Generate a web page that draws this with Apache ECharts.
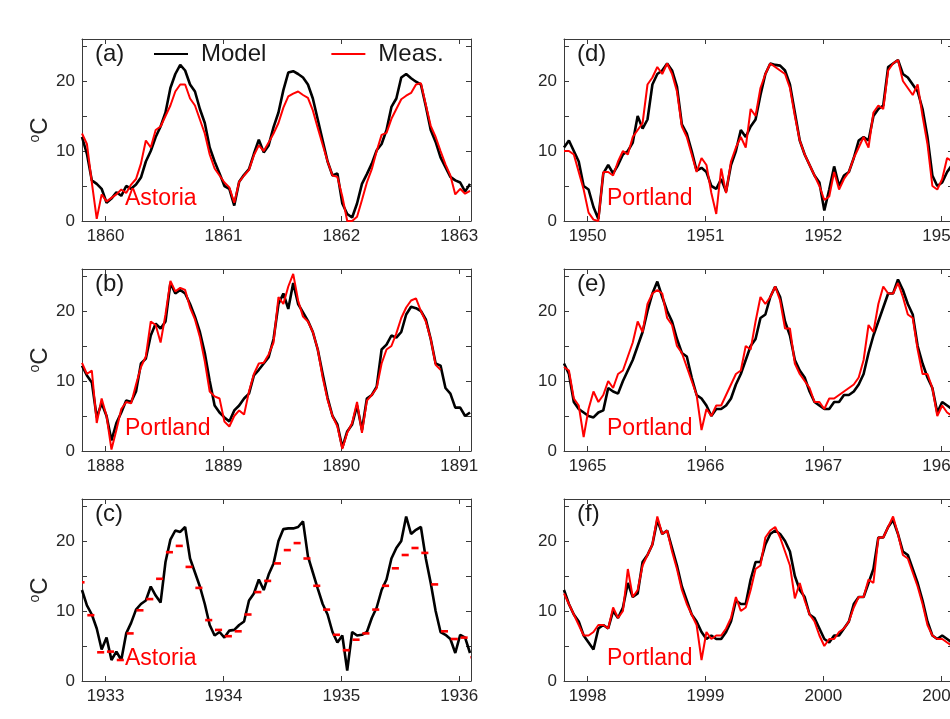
<!DOCTYPE html>
<html>
<head>
<meta charset="utf-8">
<script src="https://cdn.jsdelivr.net/npm/echarts@6/dist/echarts.min.js"></script>
<style>
  html, body { margin: 0; padding: 0; background: #ffffff; }
  #chart { width: 950px; height: 719px; }
</style>
</head>
<body>
<div id="chart"></div>
<script>
// Water temperature (°C): model vs. measurements, three-year windows.
// Daily series are stored twice a month (every 1/24 year) from each window start.
const STEP = 1 / 24;

// (a) Astoria 1860-1863
const aStart = 1859.8;
const aModel = [12, 9.6, 5.8, 5.3, 4.6, 2.6, 3.2, 4.1, 3.6, 5.0,
  4.6, 5.2, 6.2, 8.5, 10.0, 12.0, 13.5, 15.5, 19.0, 21.0,
  22.3, 21.5, 19.5, 18.5, 16.0, 14.0, 10.5, 8.5, 6.8, 5.0,
  4.6, 2.2, 5.6, 6.6, 7.4, 9.6, 11.6, 9.8, 10.8, 13.4,
  15.5, 18.7, 21.2, 21.4, 21.0, 20.5, 19.5, 17.5, 14.5, 11.5,
  8.5, 6.5, 6.8, 2.5, 1.0, 0.5, 2.5, 5.3, 6.7, 8.2,
  10.1, 11.0, 13.0, 16.3, 17.5, 20.5, 21.0, 20.4, 19.9, 19.5,
  16.4, 13.0, 11.3, 9.1, 7.7, 6.3, 5.8, 5.5, 4.2, 5.3];
const aMeas = [12.5, 11.0, 5.5, 0.3, 3.8, 2.8, 3.3, 3.8, 4.5, 4.0,
  5.2, 6.0, 8.2, 11.5, 10.5, 13.0, 13.5, 15.0, 16.5, 18.5,
  19.5, 19.5, 17.5, 16.5, 14.5, 12.5, 9.5, 7.5, 6.5, 5.5,
  4.8, 2.6, 5.6, 6.5, 7.3, 9.4, 10.8, 10.0, 11.2, 12.5,
  14.0, 16.2, 17.8, 18.2, 18.5, 18.0, 17.6, 15.8, 13.3, 10.9,
  8.5, 6.5, 6.3, 3.5, 0.0, 0.0, 0.6, 3.0, 5.5, 7.4,
  10.0, 12.3, 12.6, 14.6, 16.0, 17.4, 17.9, 18.3, 19.5, 19.7,
  16.6, 13.6, 12.0, 10.0, 8.1, 6.5, 3.8, 4.6, 3.9, 4.3];

// (b) Portland 1888-1891
const bStart = 1887.8;
const bModel = [12.2, 10.8, 9.8, 4.8, 6.8, 5.0, 1.5, 4.0, 5.5, 7.2,
  7.0, 8.5, 12.5, 13.2, 16.5, 18.2, 17.5, 18.5, 24.0, 22.5,
  23.0, 22.5, 21.0, 19.2, 17.0, 14.0, 10.0, 6.5, 5.5, 4.8,
  4.2, 5.8, 6.5, 7.5, 8.2, 10.8, 11.6, 12.5, 13.4, 16.0,
  21.0, 22.5, 20.3, 24.0, 21.0, 19.8, 18.6, 17.0, 14.5, 11.0,
  7.6, 5.0, 3.8, 0.5, 2.8, 3.8, 6.5, 3.0, 7.5, 8.0,
  9.2, 14.5, 15.2, 16.5, 16.2, 17.0, 19.5, 20.6, 20.4, 20.0,
  18.8, 16.0, 12.5, 12.2, 9.0, 8.2, 6.2, 6.2, 5.0, 5.5];
const bMeas = [12.6, 11.0, 11.5, 4.0, 7.5, 5.0, 0.2, 3.0, 6.0, 7.0,
  6.8, 9.5, 12.0, 13.5, 18.5, 18.0, 15.5, 19.5, 24.3, 22.8,
  23.3, 23.0, 20.5, 18.8, 16.3, 12.8, 8.5, 7.8, 7.5, 4.2,
  3.5, 5.0, 5.8, 5.2, 8.5, 11.0, 12.5, 12.6, 13.8, 15.5,
  22.0, 21.0, 23.5, 25.3, 21.5, 19.2, 18.5, 17.0, 14.5, 10.5,
  7.3, 5.0, 3.5, 0.3, 2.6, 4.0, 7.0, 2.6, 7.2, 8.0,
  9.0, 12.5, 14.5, 15.0, 16.8, 19.0, 20.5, 21.5, 21.8, 20.0,
  18.5, 16.0, 12.3, 11.6];

// (c) Astoria 1933-1936: model daily, measurements as monthly means
const cStart = 1932.8;
const cModel = [13.0, 10.8, 9.5, 7.5, 4.5, 6.2, 3.0, 4.2, 3.0, 6.8,
  8.3, 10.2, 11.0, 11.5, 13.5, 12.2, 11.2, 17.0, 20.2, 21.5,
  21.3, 22.0, 17.5, 15.5, 13.5, 11.0, 8.0, 6.5, 7.0, 6.2,
  7.2, 7.3, 8.0, 8.5, 11.5, 12.5, 14.5, 13.0, 15.2, 16.8,
  20.0, 21.7, 21.8, 21.8, 22.0, 22.8, 17.8, 15.5, 13.2, 11.0,
  9.5, 7.0, 5.5, 6.5, 1.5, 7.0, 6.5, 6.6, 7.0, 9.0,
  10.5, 13.0, 14.5, 17.5, 19.0, 20.0, 23.5, 21.0, 21.6, 22.0,
  17.5, 14.0, 10.0, 7.0, 6.6, 6.0, 4.0, 6.6, 6.2, 4.0];
const cMonthStart = [1932, 10]; // October 1932
const cMeasMonthly = [14.1, 9.4, 4.1, 4.2, 3.0, 6.8, 10.1, 11.7, 14.6, 18.4,
  19.3, 16.3, 13.3, 8.7, 7.3, 6.4, 7.1, 9.5, 12.7, 14.3,
  16.8, 18.7, 19.7, 17.5, 13.6, 10.2, 6.6, 4.4, 5.9, 6.8,
  10.2, 13.6, 16.1, 18.0, 19.0, 18.3, 13.8, 7.1, 6.0, 6.2, 3.4];

// (d) Portland 1950-1953
const dStart = 1949.8;
const dModel = [10.5, 11.5, 10.0, 8.5, 5.0, 4.5, 2.0, 0.3, 6.8, 8.0,
  6.8, 8.0, 9.5, 10.0, 11.2, 15.0, 13.2, 14.5, 19.5, 21.0,
  21.5, 22.5, 21.5, 19.2, 13.8, 12.5, 10.0, 7.2, 7.6, 7.0,
  5.0, 4.6, 6.0, 4.2, 8.0, 10.0, 13.0, 12.0, 13.5, 14.5,
  18.0, 21.0, 22.5, 22.3, 22.2, 21.5, 19.5, 15.5, 11.5, 9.5,
  8.0, 6.5, 5.5, 1.5, 4.5, 7.8, 5.0, 6.5, 7.0, 9.0,
  11.5, 12.0, 11.5, 15.0, 16.0, 16.5, 22.0, 22.5, 23.0, 21.0,
  20.5, 19.5, 18.5, 16.0, 12.0, 6.5, 5.0, 5.5, 7.0, 8.0];
const dMeas = [10.0, 10.0, 9.5, 7.0, 4.5, 1.2, 0.2, 0.0, 7.0, 7.0,
  6.5, 8.5, 10.0, 9.5, 12.0, 13.0, 14.0, 19.5, 20.5, 22.0,
  21.0, 22.5, 21.0, 18.5, 13.5, 12.0, 9.5, 7.0, 9.0, 8.0,
  4.0, 1.0, 7.5, 4.0, 8.5, 10.5, 12.0, 10.5, 16.0, 15.0,
  19.0, 21.0, 22.5, 22.0, 21.5, 21.0, 19.0, 15.0, 11.5, 9.5,
  8.0, 6.5, 5.0, 3.0, 3.5, 7.0, 4.5, 6.0, 7.0, 9.0,
  10.5, 12.0, 10.5, 15.5, 16.5, 16.0, 21.5, 22.5, 23.0, 20.0,
  19.0, 18.0, 19.5, 15.0, 11.0, 5.0, 4.5, 6.0, 9.0, 8.5];

// (e) Portland 1965-1968
const eStart = 1964.8;
const eModel = [12.5, 11.0, 7.0, 6.0, 5.5, 5.0, 4.8, 5.5, 5.8, 9.0,
  8.5, 8.2, 10.0, 11.5, 13.0, 15.0, 17.0, 20.0, 22.5, 24.2,
  22.0, 20.0, 18.5, 16.0, 14.0, 13.5, 10.5, 8.0, 7.5, 6.5,
  5.0, 6.0, 6.0, 6.5, 7.5, 9.5, 11.0, 13.0, 15.0, 16.0,
  19.0, 19.5, 22.0, 23.5, 22.0, 18.5, 16.5, 13.0, 11.5, 10.5,
  8.5, 7.0, 6.5, 6.0, 6.0, 7.0, 7.0, 8.0, 8.0, 8.5,
  9.5, 11.0, 14.0, 16.5, 18.5, 20.5, 22.5, 22.5, 24.5, 23.0,
  21.0, 19.5, 15.0, 12.5, 10.5, 9.0, 5.5, 7.0, 6.5, 6.0];
const eMeas = [12.0, 11.5, 7.5, 6.5, 2.0, 6.0, 8.5, 7.0, 8.0, 10.0,
  9.0, 11.0, 11.5, 13.5, 15.5, 18.5, 17.0, 21.0, 22.5, 23.0,
  22.5, 19.0, 18.0, 15.0, 14.0, 12.0, 10.0, 8.0, 3.0, 6.0,
  5.0, 6.5, 6.5, 8.0, 9.5, 11.0, 11.5, 15.0, 14.5, 18.5,
  22.0, 21.0, 22.0, 23.5, 21.5, 17.5, 17.5, 12.5, 11.0, 10.0,
  9.0, 7.0, 7.0, 6.0, 7.5, 7.5, 8.0, 8.5, 9.0, 9.5,
  10.5, 13.0, 18.0, 17.0, 21.0, 23.5, 22.5, 22.5, 24.0, 22.0,
  19.5, 19.0, 14.5, 11.0, 11.0, 9.0, 5.0, 6.5, 5.5, 5.0];

// (f) Portland 1998-2001
const fStart = 1997.8;
const fModel = [13.0, 11.0, 9.5, 8.5, 6.5, 5.5, 4.5, 7.5, 8.0, 7.5,
  10.0, 9.0, 10.5, 14.0, 12.0, 12.5, 17.0, 18.0, 19.5, 23.0,
  21.0, 21.5, 19.0, 16.5, 13.5, 11.5, 9.5, 8.5, 7.0, 6.0,
  6.5, 6.0, 6.0, 7.0, 8.5, 11.5, 11.0, 11.0, 14.5, 17.0,
  17.0, 19.5, 21.0, 21.5, 21.0, 20.0, 18.5, 15.0, 13.0, 12.0,
  9.5, 9.0, 7.5, 6.0, 5.5, 6.5, 6.5, 7.5, 8.5, 11.0,
  12.0, 12.0, 14.0, 16.0, 20.5, 20.5, 22.0, 23.0, 21.0, 18.5,
  18.0, 16.0, 14.0, 11.5, 8.5, 6.5, 6.0, 6.5, 6.0, 5.5];
const fMeas = [12.5, 11.0, 9.5, 8.0, 6.5, 6.5, 7.0, 8.0, 8.0, 7.5,
  10.5, 9.0, 10.0, 16.0, 12.0, 13.0, 16.5, 18.0, 19.5, 23.5,
  21.0, 21.5, 18.5, 16.0, 13.0, 11.0, 9.5, 8.0, 3.0, 7.0,
  6.0, 6.5, 6.5, 7.5, 9.0, 12.0, 10.0, 10.5, 13.0, 16.0,
  16.5, 20.5, 21.5, 22.0, 20.5, 18.5, 16.5, 11.8, 14.0, 11.5,
  9.5, 8.5, 6.5, 5.0, 6.0, 6.0, 7.0, 7.5, 8.5, 10.5,
  12.0, 12.0, 14.5, 14.0, 20.5, 20.5, 22.0, 23.5, 21.0, 18.0,
  17.5, 15.5, 13.5, 11.0, 8.0, 6.5, 6.0, 6.0, 5.5, 5.0];

// Panel annotations and axis ticks
const panelTags = ['(a)', '(b)', '(c)', '(d)', '(e)', '(f)'];
const stations = ['Astoria', 'Portland', 'Astoria', 'Portland', 'Portland', 'Portland'];
const yearTicks = [
  [1860, 1861, 1862, 1863],
  [1888, 1889, 1890, 1891],
  [1933, 1934, 1935, 1936],
  [1950, 1951, 1952, 1953],
  [1965, 1966, 1967, 1968],
  [1998, 1999, 2000, 2001]
];
const tempTicks = [0, 5, 10, 15, 20, 25];
const tempLabels = [0, 10, 20];
const legendNames = ['Model', 'Meas.'];

// ---------------------------------------------------------------
const FONT = 'Arial, "Liberation Sans", Helvetica, sans-serif';
const AXIS_COLOR = '#3a3a3a';
const COL_LEFT = [82, 564];
const ROW_TOP = [39, 269, 499];
const GRID_W = 389;
const GRID_H = 182;
const SPAN = 3.3;
const Y_MAX = 26;
const DASH_HALF = 0.03; // half length of a monthly-mean dash, in years

function daily(start, values) {
  return values.map((v, i) => [start + i * STEP, v]);
}
// monthly means placed at mid-month
function monthly(startYM, values) {
  return values.map((v, i) => {
    const m = startYM[1] - 1 + i;
    return [startYM[0] + (m + 0.5) / 12, v];
  });
}
// each monthly mean is drawn as a short horizontal dash, trimmed to the plot area
function renderDash(params, api) {
  const t = api.value(0), v = api.value(1);
  const p0 = api.coord([t - DASH_HALF, v]);
  const p1 = api.coord([t + DASH_HALF, v]);
  const cs = params.coordSys;
  const x1 = Math.max(p0[0], cs.x);
  const x2 = Math.min(p1[0], cs.x + cs.width);
  if (x2 <= x1) return null;
  return {
    type: 'line',
    shape: { x1: x1, y1: p0[1], x2: x2, y2: p1[1] },
    style: { stroke: '#ff0000', lineWidth: 2.6, lineCap: 'butt' }
  };
}

const panels = [
  { start: aStart, model: daily(aStart, aModel), meas: daily(aStart, aMeas), col: 0, row: 0 },
  { start: bStart, model: daily(bStart, bModel), meas: daily(bStart, bMeas), col: 0, row: 1 },
  { start: cStart, model: daily(cStart, cModel), monthlyMeas: monthly(cMonthStart, cMeasMonthly), col: 0, row: 2 },
  { start: dStart, model: daily(dStart, dModel), meas: daily(dStart, dMeas), col: 1, row: 0 },
  { start: eStart, model: daily(eStart, eModel), meas: daily(eStart, eMeas), col: 1, row: 1 },
  { start: fStart, model: daily(fStart, fModel), meas: daily(fStart, fMeas), col: 1, row: 2 }
];

const grid = [], xAxis = [], yAxis = [], series = [], graphic = [];

panels.forEach((p, k) => {
  const left = COL_LEFT[p.col];
  const top = ROW_TOP[p.row];
  grid.push({ left: left, top: top, width: GRID_W, height: GRID_H, containLabel: false, outerBoundsMode: 'none' });

  const line = { show: true, onZero: false, lineStyle: { color: AXIS_COLOR, width: 1 } };
  const tick = { show: true, inside: true, length: 5, lineStyle: { color: AXIS_COLOR, width: 1 } };

  // bottom axis with year labels, top axis mirrors the ticks
  xAxis.push({
    type: 'value', gridIndex: k, position: 'bottom',
    min: p.start, max: p.start + SPAN,
    axisLine: line,
    axisTick: Object.assign({ customValues: yearTicks[k] }, tick),
    axisLabel: {
      customValues: yearTicks[k], formatter: v => String(v),
      fontSize: 17, color: '#262626', fontFamily: FONT, margin: 7
    },
    splitLine: { show: false }
  });
  xAxis.push({
    type: 'value', gridIndex: k, position: 'top',
    min: p.start, max: p.start + SPAN,
    axisLine: line,
    axisTick: Object.assign({ customValues: yearTicks[k] }, tick),
    axisLabel: { show: false },
    splitLine: { show: false }
  });

  const yMain = {
    type: 'value', gridIndex: k, position: 'left',
    min: 0, max: Y_MAX,
    axisLine: line,
    axisTick: Object.assign({ customValues: tempTicks }, tick),
    axisLabel: {
      customValues: tempLabels,
      fontSize: 17, color: '#262626', fontFamily: FONT, margin: 7
    },
    splitLine: { show: false }
  };
  if (p.col === 0) {
    yMain.name = '{s|o}{c|C}';
    yMain.nameLocation = 'middle';
    yMain.nameRotate = 90;
    yMain.nameGap = 30;
    yMain.nameTextStyle = {
      color: '#262626',
      rich: {
        s: { fontSize: 14, fontFamily: FONT, color: '#262626', verticalAlign: 'top', padding: [0, 0, 10, 0] },
        c: { fontSize: 24, fontFamily: FONT, color: '#262626' }
      }
    };
  }
  yAxis.push(yMain);
  yAxis.push({
    type: 'value', gridIndex: k, position: 'right',
    min: 0, max: Y_MAX,
    axisLine: line,
    axisTick: Object.assign({ customValues: tempTicks }, tick),
    axisLabel: { show: false },
    splitLine: { show: false }
  });

  series.push({
    name: 'Model', type: 'line', xAxisIndex: 2 * k, yAxisIndex: 2 * k,
    data: p.model, showSymbol: false, smooth: false,
    lineStyle: { color: '#000000', width: 2.6 }, itemStyle: { color: '#000000' },
    z: 2
  });
  if (p.meas) {
    series.push({
      name: 'Meas.', type: 'line', xAxisIndex: 2 * k, yAxisIndex: 2 * k,
      data: p.meas, showSymbol: false, smooth: false,
      lineStyle: { color: '#ff0000', width: 2 }, itemStyle: { color: '#ff0000' },
      z: 3
    });
  }
  if (p.monthlyMeas) {
    series.push({
      name: 'Meas.', type: 'custom', xAxisIndex: 2 * k, yAxisIndex: 2 * k,
      data: p.monthlyMeas, renderItem: renderDash, clip: true,
      encode: { x: 0, y: 1 }, itemStyle: { color: '#ff0000' },
      z: 3
    });
  }

  graphic.push({
    type: 'text', left: left + 13, top: top + 3, z: 10,
    style: { text: panelTags[k], fontSize: 24, fontFamily: FONT, fill: '#1a1a1a' }
  });
  graphic.push({
    type: 'text', left: left + 43, top: top + GRID_H - 34, z: 10,
    style: { text: stations[k], fontSize: 23, fontFamily: FONT, fill: '#ff0000' }
  });
});

const chart = echarts.init(document.getElementById('chart'), null, { renderer: 'canvas' });
chart.setOption({
  animation: false,
  backgroundColor: '#ffffff',
  grid: grid,
  xAxis: xAxis,
  yAxis: yAxis,
  series: series,
  graphic: graphic,
  legend: {
    data: [
      { name: legendNames[0], icon: 'rect', itemStyle: { color: '#000000' } },
      { name: legendNames[1], icon: 'rect', itemStyle: { color: '#ff0000' } }
    ],
    left: 154, top: 42, padding: 0,
    itemWidth: 34, itemHeight: 2, itemGap: 65,
    selectedMode: false,
    textStyle: { fontSize: 24, fontFamily: FONT, color: '#1a1a1a', padding: [0, 0, 0, 8] }
  }
});
</script>
</body>
</html>
